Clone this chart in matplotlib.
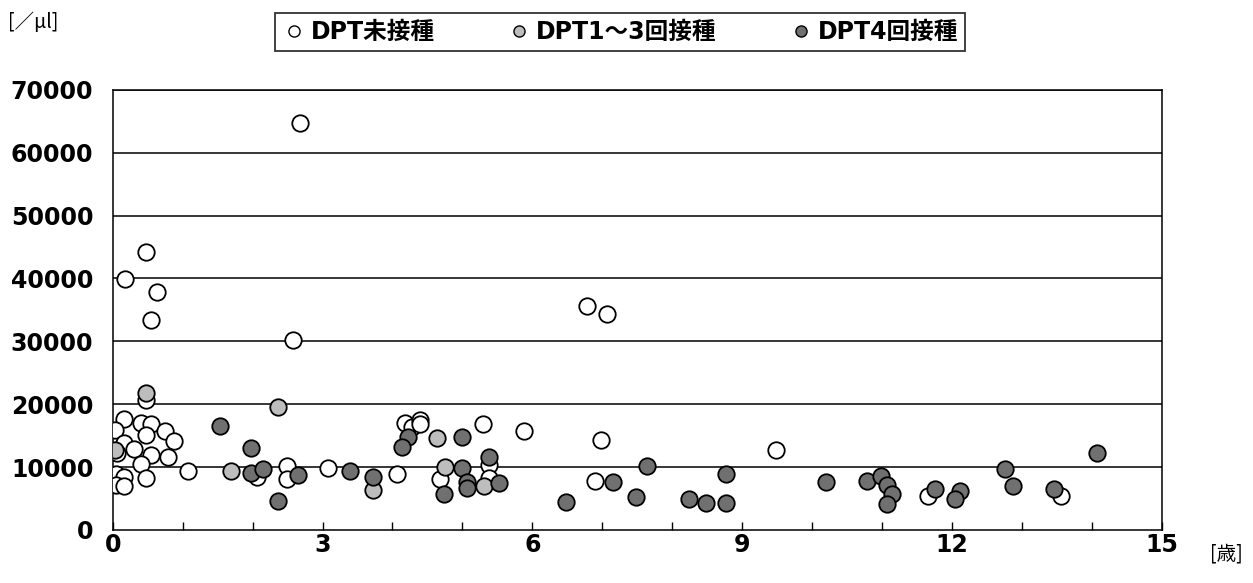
'''scatter of count vs age, by DPT vaccination status'''
import numpy as np
import matplotlib
matplotlib.use('Agg')
import matplotlib.pyplot as plt
from matplotlib import rcParams
from matplotlib.lines import Line2D
from matplotlib.ticker import MultipleLocator

rcParams.update({'font.family': ['DejaVu Sans', 'Noto Sans CJK JP'], 'font.weight': 'bold', 'font.size': 17})

# age [years], count [/ul]
none_x = [2.68, 0.47, 0.17, 0.63, 0.54, 2.58, 6.78, 7.07, 0.47, 0.16, 0.03, 0.40, 0.55, 0.48,
          0.75, 0.87, 0.16, 0.31, 0.06, 0.55, 0.79, 0.40, 0.04, 0.16, 0.47, 0.04, 0.16, 1.07,
          2.07, 2.49, 2.49, 3.08, 4.06, 4.18, 4.28, 4.39, 4.39, 5.29, 5.88, 6.98, 4.68, 5.38,
          5.38, 6.90, 9.49, 11.66, 13.56]
none_y = [64700, 44200, 39900, 37800, 33400, 30200, 35600, 34300, 20700, 17600, 15900, 17000,
          16800, 15100, 15800, 14100, 13800, 12900, 12200, 11900, 11600, 10500, 8900, 8400, 8300,
          7200, 7000, 9400, 8400, 10200, 8100, 9900, 8900, 17000, 16400, 17500, 16900, 16900,
          15800, 14300, 8100, 10300, 8300, 7800, 12700, 5400, 5400]

dpt13_x = [0.47, 0.03, 1.69, 2.37, 3.72, 4.64, 4.75, 5.31]
dpt13_y = [21800, 12700, 9400, 19600, 6400, 14600, 10000, 7000]

dpt4_x = [1.53, 1.97, 1.97, 2.15, 2.37, 2.65, 3.39, 3.72, 4.22, 4.13, 4.99, 4.74, 4.99, 5.06,
          5.06, 5.38, 5.52, 6.48, 7.15, 7.48, 7.64, 8.24, 8.48, 8.77, 8.77, 10.20, 10.79, 10.99,
          11.07, 11.14, 11.07, 11.76, 12.12, 12.05, 12.76, 12.88, 13.46, 14.08]
dpt4_y = [16500, 13000, 9100, 9700, 4600, 8700, 9400, 8400, 14800, 13200, 14800, 5700, 9900,
          7600, 6700, 11600, 7500, 4500, 7600, 5300, 10200, 4900, 4300, 8900, 4300, 7600, 7800,
          8600, 7200, 5700, 4100, 6500, 6200, 4900, 9700, 7000, 6500, 12200]

labels = ['DPT未接種', 'DPT1～3回接種', 'DPT4回接種']
colors = ['white', '#bdbdbd', '#707070']

fig = plt.figure(figsize=(12.53, 5.83), dpi=100)
ax = fig.add_axes([0.090, 0.091, 0.837, 0.755])

ax.set_xlim(0, 15)
ax.set_ylim(0, 70000)
for yy in range(10000, 70001, 10000):
    ax.axhline(yy, color='black', lw=1.1, zorder=1)

ax.scatter(none_x, none_y, s=140, facecolor=colors[0], edgecolor='black', lw=1.3, zorder=3)
ax.scatter(dpt13_x, dpt13_y, s=140, facecolor=colors[1], edgecolor='black', lw=1.3, zorder=3)
ax.scatter(dpt4_x, dpt4_y, s=140, facecolor=colors[2], edgecolor='black', lw=1.3, zorder=3)

ax.xaxis.set_major_locator(MultipleLocator(3))
ax.xaxis.set_minor_locator(MultipleLocator(1))
ax.yaxis.set_major_locator(MultipleLocator(10000))
ax.tick_params(axis='x', which='both', direction='in', length=6, width=1, pad=2)
ax.tick_params(axis='y', length=0, pad=14)
for sp in ax.spines.values():
    sp.set_linewidth(1.1)

handles = [Line2D([], [], ls='none', marker='o', ms=8, mfc=c, mec='black', mew=1) for c in colors]
leg = fig.legend(handles, labels, ncol=3, loc='center', bbox_to_anchor=(0.495, 0.945),
                 frameon=True, fancybox=False, edgecolor='black', handletextpad=0.2,
                 columnspacing=3.1, borderpad=0.3, handlelength=1.0, borderaxespad=0,
                 prop={'family': ['DejaVu Sans', 'Noto Sans CJK JP'], 'weight': 'bold', 'size': 17})
leg.get_frame().set_linewidth(1.3)

fig.text(0.006, 0.962, '[／μl]', fontsize=14, fontweight='normal', family=['Noto Sans CJK JP'], va='center')
fig.text(0.966, 0.050, '[歳]', fontsize=14, fontweight='normal', family=['Noto Sans CJK JP'], va='center')

plt.savefig('out.png', dpi=100)
